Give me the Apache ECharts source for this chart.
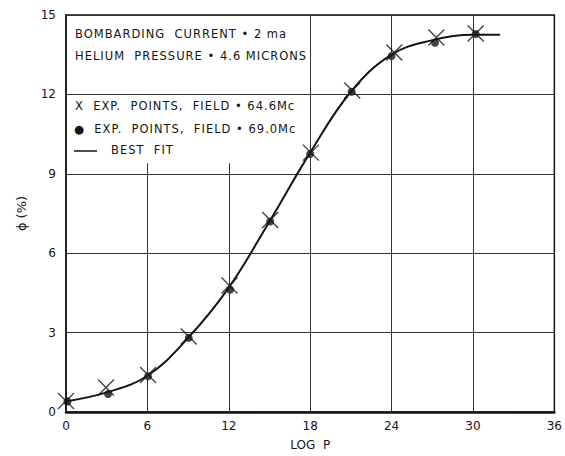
<!DOCTYPE html>
<html>
<head>
<meta charset="utf-8">
<script src="https://cdn.jsdelivr.net/npm/echarts@6/dist/echarts.min.js"></script>
<style>
html,body{margin:0;padding:0;background:#fff;overflow:hidden;}
#chart{width:565px;height:456px;}
</style>
</head>
<body>
<div id="chart"></div>
<script>
// Tick labels
const xTicks = [0, 6, 12, 18, 24, 30, 36];
const yTicks = [0, 3, 6, 9, 12, 15];

// Experimental points, field = 64.6 Mc (X marks): [log P, phi %]
const xPts646 = [0, 2.95, 6.05, 9.05, 12.05, 15.05, 18.05, 21.1, 24.2, 27.3, 30.2];
const yPts646 = [0.42, 0.93, 1.4, 2.85, 4.78, 7.25, 9.8, 12.15, 13.58, 14.15, 14.3];

// Experimental points, field = 69.0 Mc (dots)
const xPts690 = [0.1, 3.1, 6.05, 9.05, 12.1, 15.05, 18.0, 21.05, 24.0, 27.2, 30.2];
const yPts690 = [0.4, 0.68, 1.35, 2.8, 4.62, 7.2, 9.75, 12.1, 13.45, 13.95, 14.28];

// Best fit curve
const fitX = [0, 3, 6, 9, 12, 15, 18, 21, 24, 27, 30, 32];
const fitY = [0.4, 0.74, 1.37, 2.8, 4.7, 7.2, 9.8, 12.1, 13.5, 14.05, 14.25, 14.25];

// Annotation text
const notes = [
  'BOMBARDING  CURRENT • 2 ma',
  'HELIUM  PRESSURE • 4.6 MICRONS'
];
const legendLines = [
  'X  EXP.  POINTS,  FIELD • 64.6Mc',
  '●  EXP.  POINTS,  FIELD • 69.0Mc',
  'BEST  FIT'
];

const zip = (a, b) => a.map((v, i) => [v, b[i]]);
const ink = '#151515';
const font = '"DejaVu Sans", sans-serif';

const chart = echarts.init(document.getElementById('chart'), null, {renderer: 'svg', width: 565, height: 456});

const textStyle = (t, x, y) => ({
  type: 'text', left: x, top: y,
  style: {text: t, fill: ink, font: '11.5px ' + font}
});

chart.setOption({
  animation: false,
  backgroundColor: '#fff',
  grid: {left: 66, right: 9, top: 15, bottom: 38, show: true, borderColor: ink, borderWidth: 1.5, backgroundColor: 'transparent'},
  xAxis: {
    type: 'value', min: 0, max: 36, interval: 6,
    name: 'LOG  P', nameLocation: 'middle', nameGap: 27,
    nameTextStyle: {color: ink, fontFamily: font, fontSize: 12},
    axisLine: {show: true, lineStyle: {color: ink, width: 2.5}},
    axisTick: {show: false},
    axisLabel: {color: ink, fontFamily: font, fontSize: 12, margin: 8,
      formatter: v => xTicks.includes(v) ? String(v) : ''},
    splitLine: {show: false}
  },
  yAxis: {
    type: 'value', min: 0, max: 15, interval: 3,
    name: 'ϕ (%)', nameLocation: 'middle', nameGap: 38, nameRotate: 90,
    nameTextStyle: {color: ink, fontFamily: font, fontSize: 13},
    axisLine: {show: true, lineStyle: {color: ink, width: 1.5}},
    axisTick: {show: false},
    axisLabel: {color: ink, fontFamily: font, fontSize: 12, margin: 10,
      formatter: v => yTicks.includes(v) ? String(v) : ''},
    splitLine: {show: true, lineStyle: {color: '#333', width: 1}}
  },
  graphic: [
    textStyle(notes[0], 75, 28),
    textStyle(notes[1], 75, 50),
    textStyle(legendLines[0], 75, 100),
    textStyle(legendLines[1], 74, 123),
    {type: 'line', shape: {x1: 74, y1: 151, x2: 97, y2: 151}, style: {stroke: ink, lineWidth: 1.5}},
    textStyle(legendLines[2], 111, 144)
  ],
  series: [
    {
      name: 'grid verticals', type: 'line', data: [], silent: true,
      markLine: {
        silent: true, symbol: 'none', label: {show: false},
        lineStyle: {color: '#333', width: 1, type: 'solid'},
        data: [
          [{coord: [6, 0]}, {coord: [6, 9.4]}],
          [{coord: [12, 0]}, {coord: [12, 9.4]}],
          [{coord: [18, 0]}, {coord: [18, 15]}],
          [{coord: [24, 0]}, {coord: [24, 15]}],
          [{coord: [30, 0]}, {coord: [30, 15]}]
        ]
      }
    },
    {
      name: 'BEST FIT', type: 'line', smooth: 0.4, showSymbol: false,
      data: zip(fitX, fitY),
      lineStyle: {color: ink, width: 2}, z: 3
    },
    {
      name: 'EXP. POINTS, FIELD = 69.0Mc', type: 'scatter',
      data: zip(xPts690, yPts690), symbol: 'circle', symbolSize: 8,
      itemStyle: {color: ink}, z: 4
    },
    {
      name: 'EXP. POINTS, FIELD = 64.6Mc', type: 'scatter',
      data: zip(xPts646, yPts646),
      symbol: 'path://M0,0L10,10M10,0L0,10', symbolSize: 16,
      itemStyle: {color: 'none', borderColor: ink, borderWidth: 1.4}, z: 5
    }
  ]
});

// Widen letter spacing of the annotation block, as in the hand-lettered original
const annotations = notes.concat(legendLines);
function spaceLetters() {
  document.querySelectorAll('#chart svg text').forEach(t => {
    if (annotations.includes(t.textContent)) t.setAttribute('letter-spacing', '1');
  });
}
chart.on('finished', spaceLetters);
spaceLetters();
</script>
</body>
</html>
